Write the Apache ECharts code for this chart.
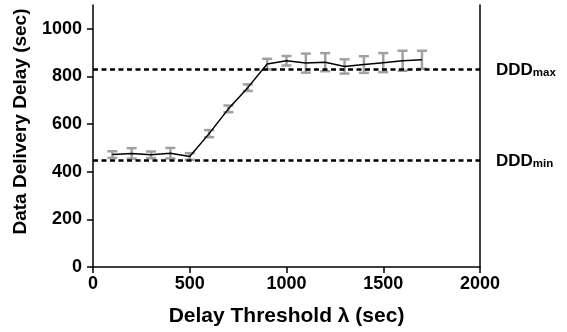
<!DOCTYPE html>
<html>
<head>
<meta charset="utf-8">
<script src="https://cdn.jsdelivr.net/npm/echarts@6/dist/echarts.min.js"></script>
<style>
  html, body { margin: 0; padding: 0; background: #fff; }
  #chart { width: 567px; height: 332px; }
</style>
</head>
<body>
<div id="chart"></div>
<script>
// Delay threshold λ (sec) and measured data delivery delay (sec)
var thresholds = [100, 200, 300, 400, 500, 600, 700, 800, 900, 1000, 1100, 1200, 1300, 1400, 1500, 1600, 1700];
var meanDelay  = [472, 477, 471, 478, 464, 560, 664, 753, 852, 866, 856, 860, 842, 850, 858, 866, 870];
var delayError = [14, 22, 14, 22, 14, 15, 14, 14, 22, 20, 40, 38, 30, 35, 40, 42, 38];

// Reference levels for the delivery delay bounds
var dddMax = 830;
var dddMin = 450;

var yTicks = [0, 200, 400, 600, 800, 1000];

var FONT = '"Liberation Sans", Arial, Helvetica, sans-serif';

var lineData = thresholds.map(function (t, i) { return [t, meanDelay[i]]; });
var errData = thresholds.map(function (t, i) {
  return [t, meanDelay[i] - delayError[i], meanDelay[i] + delayError[i]];
});

var chart = echarts.init(document.getElementById('chart'), null, { renderer: 'canvas' });

function plain(v) { return String(v); }

function dddLabel(sub) {
  return {
    show: true,
    position: 'end',
    distance: 16,
    formatter: '{a|DDD}{b|' + sub + '}',
    rich: {
      a: { fontFamily: FONT, fontWeight: 'bold', fontSize: 17, color: '#000', lineHeight: 20, verticalAlign: 'bottom' },
      b: { fontFamily: FONT, fontWeight: 'bold', fontSize: 11.5, color: '#000', lineHeight: 20, verticalAlign: 'bottom', padding: [10, 0, 0, 0] }
    }
  };
}

chart.setOption({
  animation: false,
  backgroundColor: '#fff',
  grid: { left: 93, right: 87, top: 5, bottom: 65, containLabel: false },
  xAxis: {
    type: 'value',
    min: 0, max: 2000, interval: 500,
    name: 'Delay Threshold λ (sec)',
    nameLocation: 'middle',
    nameGap: 39,
    nameTextStyle: { fontFamily: FONT, fontWeight: 'bold', fontSize: 21, color: '#000' },
    axisLine: { show: true, lineStyle: { color: '#000', width: 1.5 } },
    axisTick: { show: true, inside: false, length: 6, lineStyle: { color: '#000', width: 1.5 } },
    axisLabel: { fontFamily: FONT, fontWeight: 'bold', fontSize: 18, color: '#000', margin: 8, formatter: plain },
    splitLine: { show: false }
  },
  yAxis: [{
    type: 'value',
    min: 0, max: 1100, interval: 200,
    name: 'Data Delivery Delay (sec)',
    nameLocation: 'middle',
    nameGap: 63,
    nameTextStyle: { fontFamily: FONT, fontWeight: 'bold', fontSize: 19, color: '#000', padding: [0, 0, 0, 29] },
    axisLine: { show: true, lineStyle: { color: '#000', width: 1.5 } },
    axisTick: { show: true, length: 6, customValues: yTicks, lineStyle: { color: '#000', width: 1.5 } },
    axisLabel: { fontFamily: FONT, fontWeight: 'bold', fontSize: 18, color: '#000', margin: 11, customValues: yTicks, formatter: plain },
    splitLine: { show: false }
  }, {
    type: 'value',
    position: 'right',
    min: 0, max: 1100,
    axisLine: { show: true, lineStyle: { color: '#000', width: 1.5 } },
    axisTick: { show: false },
    axisLabel: { show: false },
    splitLine: { show: false }
  }],
  series: [{
    type: 'custom',
    name: 'error',
    z: 2,
    renderItem: function (params, api) {
      var x = api.value(0);
      var lo = api.coord([x, api.value(1)]);
      var hi = api.coord([x, api.value(2)]);
      var hw = 5;
      var style = { stroke: '#a0a0a0', lineWidth: 2.5, fill: null };
      return {
        type: 'group',
        children: [
          { type: 'line', shape: { x1: lo[0], y1: lo[1], x2: hi[0], y2: hi[1] }, style: style },
          { type: 'line', shape: { x1: lo[0] - hw, y1: lo[1], x2: lo[0] + hw, y2: lo[1] }, style: style },
          { type: 'line', shape: { x1: hi[0] - hw, y1: hi[1], x2: hi[0] + hw, y2: hi[1] }, style: style }
        ]
      };
    },
    encode: { x: 0, y: [1, 2] },
    data: errData
  }, {
    type: 'line',
    name: 'delay',
    z: 4,
    data: lineData,
    symbol: 'none',
    lineStyle: { color: '#000', width: 1.5 },
    markLine: {
      silent: true,
      symbol: 'none',
      animation: false,
      lineStyle: { color: '#000', width: 2.5, type: [5, 3.5] },
      data: [
        { yAxis: dddMax, label: dddLabel('max') },
        { yAxis: dddMin, label: dddLabel('min') }
      ]
    }
  }]
});
</script>
</body>
</html>
